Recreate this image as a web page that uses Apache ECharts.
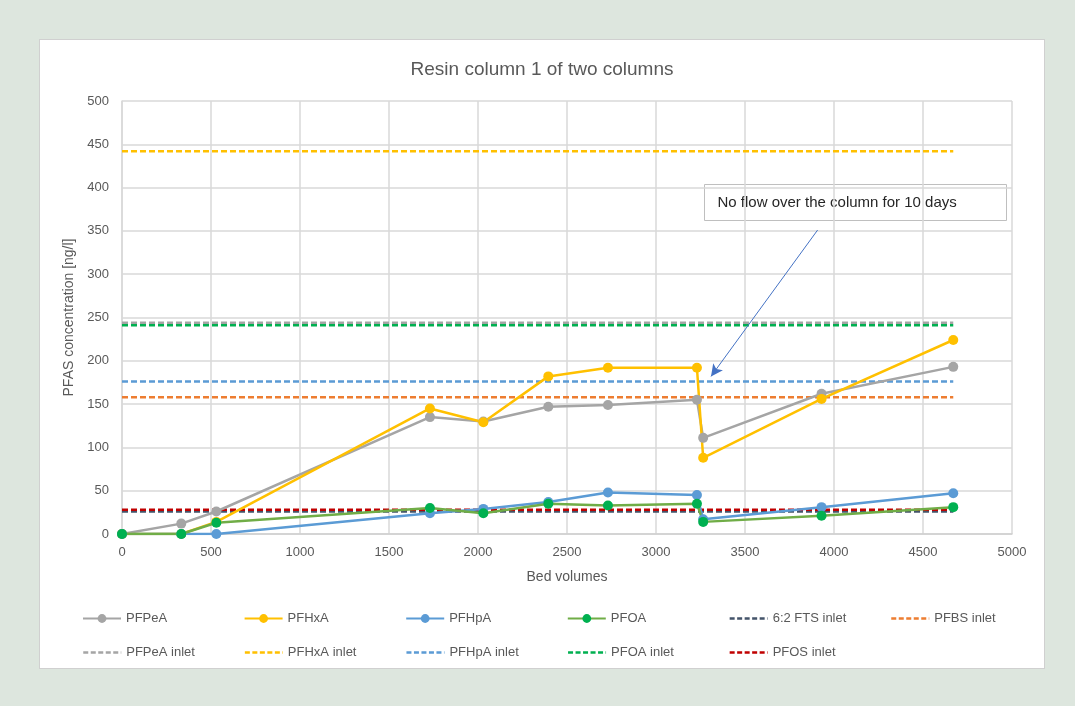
<!DOCTYPE html>
<html>
<head>
<meta charset="utf-8">
<script src="https://cdn.jsdelivr.net/npm/echarts@6/dist/echarts.min.js"></script>
<style>
html,body{margin:0;padding:0;width:1075px;height:706px;background:#dde6de;overflow:hidden;}
#chart{position:absolute;left:40px;top:40px;width:1004px;height:628px;background:#fff;outline:1px solid #d0d0d0;}
</style>
</head>
<body>
<div id="chart"></div>
<script>
// ---- data ----
const bedVolumes = [0, 333, 530, 1730, 2030, 2395, 2730, 3230, 3265, 3930, 4670];
const pfpea = [0, 12, 26, 135, 130, 147, 149, 155, 111, 162, 193];
const pfhxa = [0, 0, 14, 145, 129, 182, 192, 192, 88, 156, 224];
const pfhpa = [0, 0, 0, 24, 29, 37, 48, 45, 17, 31, 47];
const pfoa  = [0, 0, 13, 30, 24, 35, 33, 35, 14, 21, 31];

const inletNames  = ['6:2 FTS inlet', 'PFBS inlet', 'PFPeA inlet', 'PFHxA inlet', 'PFHpA inlet', 'PFOA inlet', 'PFOS inlet'];
const inletValues = [26, 158, 244, 442, 176, 241, 28];
const inletRange  = [0, 4670];

const xTicks = {min: 0, max: 5000, interval: 500};
const yTicks = {min: 0, max: 500, interval: 50};

const annotationText = 'No flow over the column for 10 days';
const arrowFrom = [3908, 351];
const arrowTo = [3309, 182];

// ---- styles ----
const measuredNames = ['PFPeA', 'PFHxA', 'PFHpA', 'PFOA'];
const measuredData = [pfpea, pfhxa, pfhpa, pfoa];
const lineColors = ['#a5a5a5', '#ffc000', '#5b9bd5', '#70ad47'];
const markerColors = ['#a5a5a5', '#ffc000', '#5b9bd5', '#00b050'];
const inletColors = ['#44546a', '#ed7d31', '#a5a5a5', '#ffc000', '#5b9bd5', '#00b050', '#c00000'];
const textColor = '#595959';
const font = 'Liberation Sans, Arial, sans-serif';

const series = [];
measuredNames.forEach((n, i) => {
  series.push({
    name: n, type: 'line',
    data: bedVolumes.map((x, j) => [x, measuredData[i][j]]),
    symbol: 'circle', symbolSize: 10,
    lineStyle: {color: lineColors[i], width: 2.5},
    itemStyle: {color: markerColors[i], borderWidth: 0},
    z: 3,
    animation: false
  });
});
inletNames.forEach((n, i) => {
  series.push({
    name: n, type: 'line',
    data: inletRange.map(x => [x, inletValues[i]]),
    symbol: 'none',
    lineStyle: {color: inletColors[i], width: 2.5, type: [6, 3]},
    itemStyle: {color: inletColors[i]},
    z: 2,
    animation: false
  });
});
// arrow annotation in data coordinates
series[1].markLine = {
  silent: true, symbol: ['none', 'arrow'], symbolSize: [9, 12],
  label: {show: false},
  lineStyle: {color: '#4472c4', width: 1, type: 'solid'},
  data: [[{coord: arrowFrom}, {coord: arrowTo}]],
  animation: false
};

const allNames = measuredNames.concat(inletNames);
const legends = allNames.map((n, i) => {
  const isInlet = i >= measuredNames.length;
  const l = {
    data: [n],
    left: 37 + (i % 6) * 161.6,
    top: i < 6 ? 567 : 601,
    itemWidth: 38, itemHeight: 11,
    itemGap: 6,
    textStyle: {color: textColor, fontSize: 13, fontFamily: font},
    selectedMode: false
  };
  if (isInlet) {
    l.itemStyle = {opacity: 0};
    l.lineStyle = {type: [5, 2.5], width: 2.5};
  }
  return l;
});

const chart = echarts.init(document.getElementById('chart'), null, {renderer: 'canvas'});
chart.setOption({
  animation: false,
  title: {
    text: 'Resin column 1 of two columns', left: 'center', top: 15,
    textStyle: {color: textColor, fontSize: 19, fontWeight: 'normal', fontFamily: font}
  },
  grid: {left: 82, right: 32, top: 61, bottom: 134},
  xAxis: {
    type: 'value', min: xTicks.min, max: xTicks.max, interval: xTicks.interval,
    name: 'Bed volumes', nameLocation: 'middle', nameGap: 36,
    nameTextStyle: {color: textColor, fontSize: 14, fontFamily: font},
    axisLine: {show: true, lineStyle: {color: '#d0d0d0', width: 1.5}},
    axisTick: {show: false},
    axisLabel: {color: textColor, fontSize: 13, fontFamily: font, margin: 12, formatter: v => String(v)},
    splitLine: {show: true, lineStyle: {color: '#d9d9d9', width: 1.5}}
  },
  yAxis: {
    type: 'value', min: yTicks.min, max: yTicks.max, interval: yTicks.interval,
    name: 'PFAS concentration [ng/l]', nameLocation: 'middle', nameGap: 35, nameRotate: 90,
    nameTextStyle: {color: textColor, fontSize: 14, fontFamily: font},
    axisLine: {show: true, lineStyle: {color: '#d9d9d9', width: 1.5}},
    axisTick: {show: false},
    axisLabel: {color: textColor, fontSize: 13, fontFamily: font, margin: 13, formatter: v => String(v)},
    splitLine: {show: true, lineStyle: {color: '#d9d9d9', width: 1.5}}
  },
  legend: legends,
  graphic: [{
    type: 'group', left: 664, top: 144, z: 100,
    children: [
      {type: 'rect', shape: {x: 0, y: 0, width: 302, height: 36},
       style: {fill: '#fff', stroke: '#bfbfbf', lineWidth: 1}},
      {type: 'text', x: 13, y: 18,
       style: {text: annotationText, fill: '#262626', fontSize: 15, fontFamily: font, verticalAlign: 'middle'}}
    ]
  }],
  series: series
});
</script>
</body>
</html>
